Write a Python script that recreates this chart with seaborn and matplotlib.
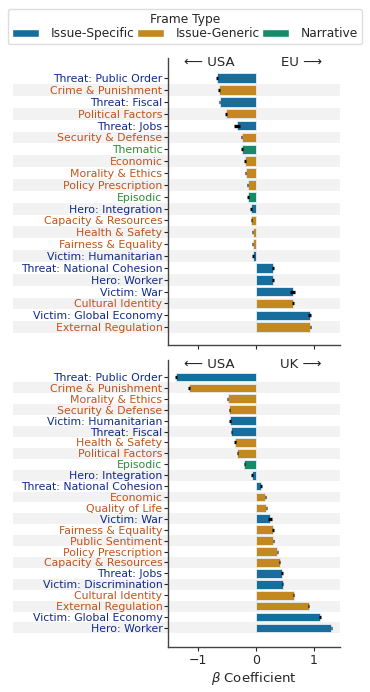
import numpy as np
import pandas as pd
import matplotlib
matplotlib.use('Agg')
import matplotlib.pyplot as plt
import matplotlib.transforms as mtransforms
from matplotlib.patches import Patch, Rectangle
import seaborn as sns

sns.set_style('white')
plt.rcParams['font.family'] = ['DejaVu Sans']

SPEC = 'Issue-Specific'
GEN = 'Issue-Generic'
NAR = 'Narrative'
frame_types = [SPEC, GEN, NAR]

# USA vs EU
eu_frames = ['Threat: Public Order', 'Crime & Punishment', 'Threat: Fiscal', 'Political Factors',
             'Threat: Jobs', 'Security & Defense', 'Thematic', 'Economic', 'Morality & Ethics',
             'Policy Prescription', 'Episodic', 'Hero: Integration', 'Capacity & Resources',
             'Health & Safety', 'Fairness & Equality', 'Victim: Humanitarian',
             'Threat: National Cohesion', 'Hero: Worker', 'Victim: War', 'Cultural Identity',
             'Victim: Global Economy', 'External Regulation']
eu_types = [SPEC, GEN, SPEC, GEN, SPEC, GEN, NAR, GEN, GEN, GEN, NAR, SPEC, GEN, GEN, GEN, SPEC,
            SPEC, SPEC, SPEC, GEN, SPEC, GEN]
eu_beta = [-0.67, -0.64, -0.63, -0.52, -0.33, -0.25, -0.24, -0.19, -0.18, -0.14, -0.14, -0.09,
           -0.08, -0.06, -0.06, -0.05, 0.29, 0.29, 0.63, 0.64, 0.93, 0.94]
eu_err = [0.015, 0.012, 0.012, 0.012, 0.05, 0.01, 0.012, 0.01, 0.012, 0.01, 0.012, 0.015,
          0.01, 0.01, 0.01, 0.012, 0.015, 0.02, 0.04, 0.012, 0.025, 0.012]

# USA vs UK
uk_frames = ['Threat: Public Order', 'Crime & Punishment', 'Morality & Ethics', 'Security & Defense',
             'Victim: Humanitarian', 'Threat: Fiscal', 'Health & Safety', 'Political Factors',
             'Episodic', 'Hero: Integration', 'Threat: National Cohesion', 'Economic',
             'Quality of Life', 'Victim: War', 'Fairness & Equality', 'Public Sentiment',
             'Policy Prescription', 'Capacity & Resources', 'Threat: Jobs',
             'Victim: Discrimination', 'Cultural Identity', 'External Regulation',
             'Victim: Global Economy', 'Hero: Worker']
uk_types = [SPEC, GEN, GEN, GEN, SPEC, SPEC, GEN, GEN, NAR, SPEC, SPEC, GEN, GEN, SPEC, GEN, GEN,
            GEN, GEN, SPEC, SPEC, GEN, GEN, SPEC, SPEC]
uk_beta = [-1.38, -1.16, -0.49, -0.46, -0.45, -0.43, -0.36, -0.32, -0.2, -0.07, 0.09, 0.16,
           0.18, 0.24, 0.29, 0.30, 0.37, 0.41, 0.45, 0.46, 0.65, 0.91, 1.10, 1.30]
uk_err = [0.012, 0.012, 0.01, 0.01, 0.01, 0.01, 0.012, 0.01, 0.012, 0.02, 0.02, 0.012, 0.012,
          0.04, 0.012, 0.012, 0.01, 0.012, 0.015, 0.012, 0.012, 0.012, 0.015, 0.012]

label_colors = {SPEC: '#0f2a8c', GEN: '#c2531b', NAR: '#2e8b3a'}
palette = dict(zip(frame_types, sns.color_palette('colorblind', 3)))

fig = plt.figure(figsize=(3.7, 6.92), dpi=100)
ax_top = fig.add_axes([168/370, 1-345/692, 172/370, 287/692])
ax_bot = fig.add_axes([168/370, 1-647/692, 172/370, 287/692])


def draw_panel(ax, frames, types, beta, err, right_name, ylim):
    df = pd.DataFrame({'frame': frames, 'type': types, 'beta': beta})
    n = len(frames)
    trans = mtransforms.blended_transform_factory(ax.transAxes, ax.transData)
    for i in range(1, n, 2):
        ax.add_patch(Rectangle((-0.9, i - 0.5), 1.9, 1.0, transform=trans, color='#f2f2f2',
                               zorder=0, clip_on=False, lw=0))
    sns.barplot(data=df, x='beta', y='frame', hue='type', hue_order=frame_types,
                palette=palette, dodge=False, legend=False, errorbar=None,
                edgecolor='#e8eef2', linewidth=0.6, ax=ax, zorder=2)
    ax.errorbar(beta, np.arange(n), xerr=err, fmt='none', ecolor='black', elinewidth=2.4,
                zorder=3)
    ax.set_xlim(-1.52, 1.45)
    ax.set_ylim(*ylim)
    ax.set_xticks([-1, 0, 1])
    ax.set_ylabel('')
    ax.set_xlabel('')
    ax.tick_params(axis='y', length=3, width=0.8, labelsize=7.8, pad=1, left=True)
    ax.tick_params(axis='x', length=3, width=0.8, labelsize=9, bottom=True, pad=2)
    for lab, t in zip(ax.get_yticklabels(), types):
        lab.set_color(label_colors[t])
    sns.despine(ax=ax)
    for s in ['left', 'bottom']:
        ax.spines[s].set_color('#444444')
        ax.spines[s].set_linewidth(1.0)
    ttrans = mtransforms.blended_transform_factory(ax.transData, ax.transAxes)
    ax.text(-0.8, 0.985, '\u27f5 USA', transform=ttrans, ha='center', va='center', fontsize=9.5)
    ax.text(0.78, 0.985, right_name + ' \u27f6', transform=ttrans, ha='center', va='center',
            fontsize=9.5)


draw_panel(ax_top, eu_frames, eu_types, eu_beta, eu_err, 'EU', (22.5, -1.7))
draw_panel(ax_bot, uk_frames, uk_types, uk_beta, uk_err, 'UK', (24.75, -1.56))
ax_top.set_xticklabels([])
ax_bot.set_xlabel(r'$\beta$ Coefficient', fontsize=9.5, labelpad=2)

handles = [Patch(facecolor=sns.desaturate(palette[t], 0.75), label=t) for t in frame_types]
fig.legend(handles=handles, title='Frame Type', ncol=3, loc='lower left', mode='expand',
           bbox_to_anchor=(8/370, 1-44/692, 354/370, 36/692), fontsize=8.8,
           title_fontsize=8.8, handlelength=2.2, handleheight=0.6, borderaxespad=0,
           borderpad=0.3, labelspacing=0.15, handletextpad=1.0, framealpha=1,
           edgecolor='#dddddd')

fig.savefig('out.png', dpi=100)
